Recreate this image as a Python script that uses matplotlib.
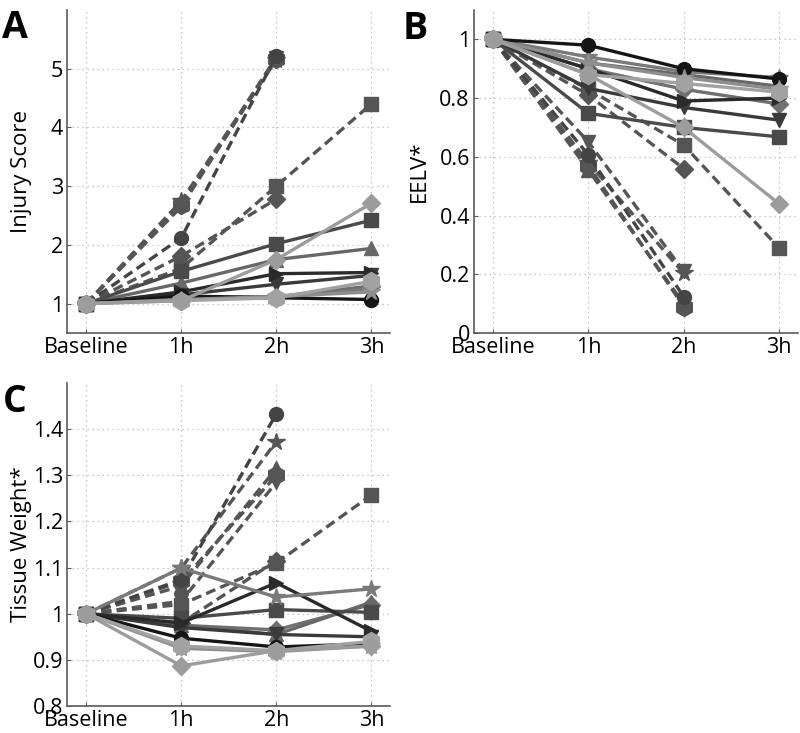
import numpy as np
import matplotlib
matplotlib.use("Agg")
import matplotlib.pyplot as plt

plt.rcParams['font.family'] = ['Open Sans', 'DejaVu Sans']

nan = np.nan
timepoints = ["Baseline", "1h", "2h", "3h"]

# solid series (survivors)
s_circle = {"A": [1, 1.13, 1.10, 1.07], "B": [1, 0.98, 0.90, 0.865], "C": [1, 0.947, 0.928, 0.935]}
s_square = {"A": [1, 1.55, 2.02, 2.42], "B": [1, 0.748, 0.70, 0.668], "C": [1, 0.99, 1.009, 1.003]}
s_tri = {"A": [1, 1.35, 1.75, 1.94], "B": [1, 0.92, 0.88, 0.84], "C": [1, 0.975, 0.955, 1.025]}
s_right = {"A": [1, 1.20, 1.51, 1.53], "B": [1, 0.90, 0.79, 0.80], "C": [1, 0.98, 1.067, 0.962]}
s_down = {"A": [1, 1.15, 1.33, 1.48], "B": [1, 0.833, 0.768, 0.725], "C": [1, 0.97, 0.955, 0.95]}
s_diam_lt = {"A": [1, 1.05, 1.75, 2.71], "B": [1, 0.88, 0.70, 0.44], "C": [1, 0.887, 0.92, 0.93]}
s_diam_md = {"A": [1, 1.10, 1.12, 1.30], "B": [1, 0.90, 0.83, 0.78], "C": [1, 0.975, 0.965, 1.02]}
s_star_md = {"A": [1, 1.08, 1.10, 1.25], "B": [1, 0.94, 0.89, 0.87], "C": [1, 1.099, 1.036, 1.054]}
s_hex_lt = {"A": [1, 1.05, 1.10, 1.38], "B": [1, 0.88, 0.85, 0.82], "C": [1, 0.93, 0.92, 0.94]}
s_star_lt = {"A": [1, 1.07, 1.12, 1.20], "B": [1, 0.92, 0.87, 0.83], "C": [1, 0.925, 0.918, 0.93]}

# dashed series (non-survivors)
d_circle = {"A": [1, 2.12, 5.22, nan], "B": [1, 0.606, 0.124, nan], "C": [1, 1.074, 1.433, nan]}
d_star = {"A": [1, 2.75, 5.15, nan], "B": [1, 0.58, 0.203, nan], "C": [1, 1.099, 1.373, nan]}
d_tri = {"A": [1, 2.70, 5.20, nan], "B": [1, 0.555, 0.10, nan], "C": [1, 1.06, 1.315, nan]}
d_down = {"A": [1, 2.65, 5.18, nan], "B": [1, 0.651, 0.21, nan], "C": [1, 1.027, 1.285, nan]}
d_hex = {"A": [1, 2.68, 5.17, nan], "B": [1, 0.57, 0.09, nan], "C": [1, 1.07, 1.30, nan]}
d_diam = {"A": [1, 1.81, 2.78, nan], "B": [1, 0.81, 0.56, nan], "C": [1, 0.98, 1.115, nan]}
d_square = {"A": [1, 1.60, 3.00, 4.40], "B": [1, 0.83, 0.64, 0.29], "C": [1, 1.02, 1.11, 1.257]}

series = [
    (d_hex, "h", "#555555", "--"),
    (d_diam, "D", "#555555", "--"),
    (d_square, "s", "#555555", "--"),
    (d_down, "v", "#555555", "--"),
    (d_tri, "^", "#555555", "--"),
    (d_star, "*", "#555555", "--"),
    (d_circle, "o", "#444444", "--"),
    (s_diam_md, "D", "#707070", "-"),
    (s_tri, "^", "#686868", "-"),
    (s_square, "s", "#4a4a4a", "-"),
    (s_down, "v", "#3a3a3a", "-"),
    (s_right, ">", "#2a2a2a", "-"),
    (s_star_md, "*", "#7a7a7a", "-"),
    (s_circle, "o", "#151515", "-"),
    (s_star_lt, "*", "#8e8e8e", "-"),
    (s_hex_lt, "h", "#a2a2a2", "-"),
    (s_diam_lt, "D", "#9c9c9c", "-"),
]

fig = plt.figure(figsize=(8, 7.33), dpi=100)
axA = fig.add_axes([0.084, 0.5457, 0.404, 0.4407])
axB = fig.add_axes([0.5925, 0.5457, 0.405, 0.4407])
axC = fig.add_axes([0.084, 0.0368, 0.404, 0.4407])

panels = [
    (axA, "A", "Injury Score", (0.5, 6), [1, 2, 3, 4, 5], ["1", "2", "3", "4", "5"], -0.11),
    (axB, "B", "EELV*", (0, 1.1), [0, 0.2, 0.4, 0.6, 0.8, 1], ["0", "0.2", "0.4", "0.6", "0.8", "1"], -0.136),
    (axC, "C", "Tissue Weight*", (0.8, 1.5), [0.8, 0.9, 1.0, 1.1, 1.2, 1.3, 1.4],
     ["0.8", "0.9", "1", "1.1", "1.2", "1.3", "1.4"], -0.108),
]

x = np.arange(len(timepoints))
for ax, key, ylabel, ylim, yt, ytl, lx in panels:
    for data, mk, col, ls in series:
        ms = 13 if mk in ("*", "h") else 10
        if mk == "D":
            ms = 9
        style = (0, (3, 1.6)) if ls == "--" else "-"
        ax.plot(x, data[key], linestyle=style, marker=mk, color=col, lw=2.4,
                markersize=ms, markerfacecolor=col, markeredgecolor=col)
    ax.set_xlim(-0.2, 3.2)
    ax.set_ylim(*ylim)
    ax.set_xticks(x)
    ax.set_xticklabels(timepoints)
    ax.set_yticks(yt)
    ax.set_yticklabels(ytl)
    ax.set_ylabel(ylabel, fontsize=16)
    ax.yaxis.set_label_coords(lx, 0.5)
    ax.grid(True, color="#b5b5b5", linestyle=(0, (1, 3)), lw=0.9)
    ax.set_axisbelow(True)
    for side in ("top", "right"):
        ax.spines[side].set_visible(False)
    for side in ("left", "bottom"):
        ax.spines[side].set_color("#5a5a5a")
        ax.spines[side].set_linewidth(1.2)
    ax.tick_params(labelsize=15.5, direction="in", length=3, color="#5a5a5a", pad=3)

fig.text(0.003, 0.988, "A", fontsize=27, fontweight="bold", va="top", ha="left")
fig.text(0.503, 0.986, "B", fontsize=27, fontweight="bold", va="top", ha="left")
fig.text(0.003, 0.478, "C", fontsize=27, fontweight="bold", va="top", ha="left")

fig.savefig("out.png", dpi=100)
